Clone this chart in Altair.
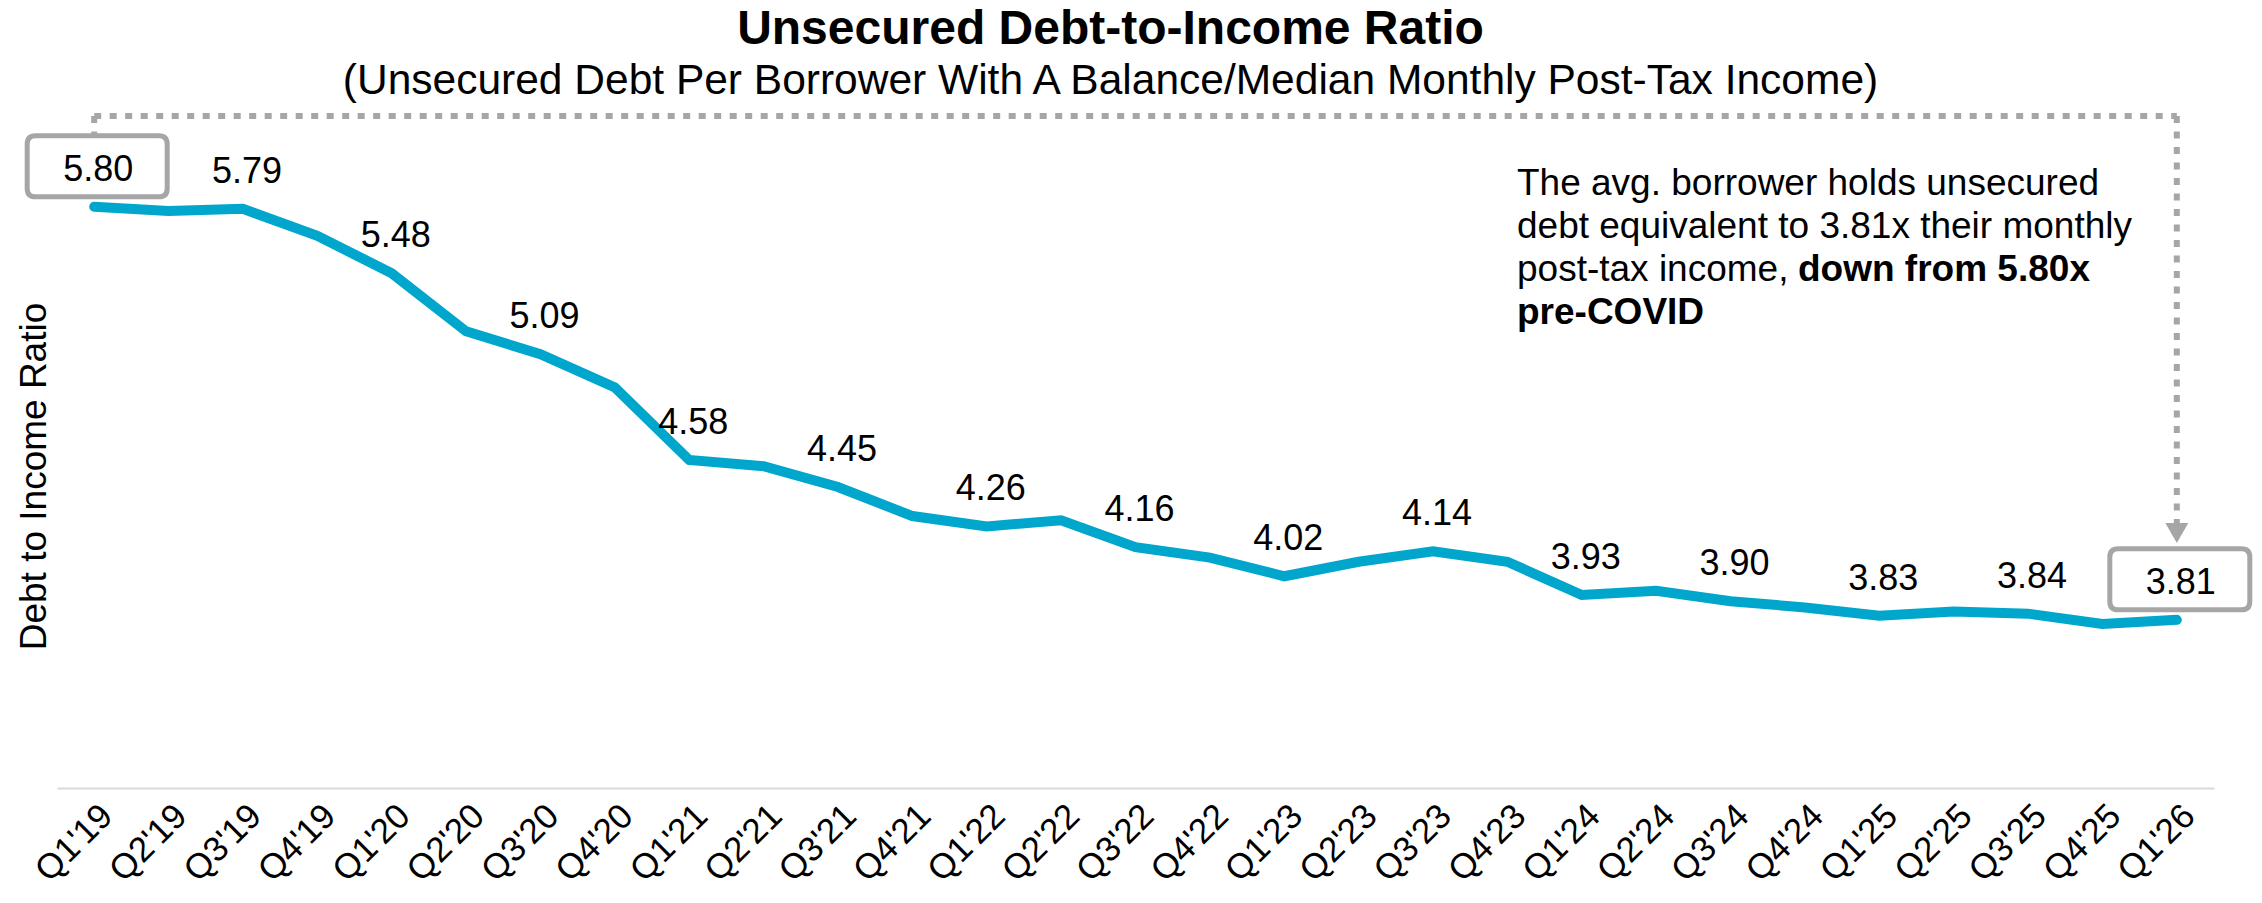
import altair as alt
import pandas as pd

# ---------------- data ----------------
quarters = ["Q1'19", "Q2'19", "Q3'19", "Q4'19", "Q1'20", "Q2'20", "Q3'20", "Q4'20",
            "Q1'21", "Q2'21", "Q3'21", "Q4'21", "Q1'22", "Q2'22", "Q3'22", "Q4'22",
            "Q1'23", "Q2'23", "Q3'23", "Q4'23", "Q1'24", "Q2'24", "Q3'24", "Q4'24",
            "Q1'25", "Q2'25", "Q3'25", "Q4'25", "Q1'26"]
ratio = [5.80, 5.78, 5.79, 5.66, 5.48, 5.20, 5.09, 4.93,
         4.58, 4.55, 4.45, 4.31, 4.26, 4.29, 4.16, 4.11,
         4.02, 4.09, 4.14, 4.09, 3.93, 3.95, 3.90, 3.87,
         3.83, 3.85, 3.84, 3.79, 3.81]
boxed_quarters = ["Q1'19", "Q1'26"]

title_text = "Unsecured Debt-to-Income Ratio"
subtitle_text = "(Unsecured Debt Per Borrower With A Balance/Median Monthly Post-Tax Income)"
y_title = "Debt to Income Ratio"
note_regular = "The avg. borrower holds unsecured\ndebt equivalent to 3.81x their monthly\npost-tax income,"
note_bold_1 = "down from 5.80x"
note_bold_2 = "pre-COVID"

# ---------------- style ----------------
FONT = "Liberation Sans, Arial, Helvetica, sans-serif"
LINE_COLOR = "#00A6CB"
GRAY = "#A6A6A6"
BOX_PATH = ("M -0.88,-0.4357 L 0.88,-0.4357 Q 1,-0.4357 1,-0.3157 L 1,0.3157 "
            "Q 1,0.4357 0.88,0.4357 L -0.88,0.4357 Q -1,0.4357 -1,0.3157 "
            "L -1,-0.3157 Q -1,-0.4357 -0.88,-0.4357 Z")

df = pd.DataFrame({"quarter": quarters, "ratio": ratio})
df["idx"] = range(len(df))
df["label"] = [f"{v:.2f}" for v in ratio]
labels_df = df[df["idx"] % 2 == 0]
box_df = df[df["quarter"].isin(boxed_quarters)]
ends_df = pd.DataFrame({"quarter": [quarters[0]], "q2": [quarters[-1]]})
last_df = pd.DataFrame({"quarter": [quarters[-1]]})
first_df = pd.DataFrame({"quarter": [quarters[0]]})

x_scale = alt.Scale(type="point", padding=0.5, domain=quarters)
x_enc = alt.X(
    "quarter:N", sort=quarters, scale=x_scale,
    axis=alt.Axis(title=None, labelAngle=-45, labelFontSize=35, labelFont=FONT,
                  labelColor="black", ticks=False, tickSize=0, domainColor="#D9D9D9",
                  domainWidth=2, labelPadding=10, grid=False,
                  labelAlign="right", labelBaseline="top"),
)
x_plain = alt.X("quarter:N", sort=quarters, scale=x_scale)
y_enc = alt.Y(
    "ratio:Q",
    scale=alt.Scale(domain=[3, 6.3], nice=False, zero=False),
    axis=alt.Axis(title=y_title, labels=False, ticks=False, domain=False, grid=False,
                  titleFontSize=37, titleFont=FONT, titleFontWeight="normal",
                  titleColor="black", titleX=-12, titleY=373, titleAngle=270,
                  titleBaseline="alphabetic", titleAlign="center"),
)

line = alt.Chart(df).mark_line(color=LINE_COLOR, strokeWidth=10, strokeCap="round").encode(
    x=x_enc, y=y_enc)

boxes = alt.Chart(box_df).mark_point(
    shape=BOX_PATH, size=19600, filled=True, fill="white", stroke=GRAY,
    strokeWidth=5, opacity=1, fillOpacity=1, yOffset=-40.5, xOffset=3,
).encode(x=x_plain, y=y_enc)

labels = alt.Chart(labels_df).mark_text(
    font=FONT, fontSize=36, color="black", dx=4, dy=-26, baseline="alphabetic", align="center"
).encode(x=x_plain, y=y_enc, text="label:N")

dash = [7, 8.5]
bracket_h = alt.Chart(ends_df).mark_rule(color=GRAY, strokeWidth=6, strokeDash=dash).encode(
    x=x_plain, x2="q2:N", y=alt.value(13))
bracket_l = alt.Chart(first_df).mark_rule(color=GRAY, strokeWidth=6, strokeDash=dash).encode(
    x=x_plain, y=alt.value(13), y2=alt.value(31))
bracket_r = alt.Chart(last_df).mark_rule(color=GRAY, strokeWidth=6, strokeDash=dash).encode(
    x=x_plain, y=alt.value(13), y2=alt.value(422))
arrow = alt.Chart(last_df).mark_point(
    shape="triangle-down", size=529, filled=True, color=GRAY, opacity=1
).encode(x=x_plain, y=alt.value(430))

note1 = alt.Chart(pd.DataFrame({"t": [note_regular]})).mark_text(
    font=FONT, fontSize=37, color="black", align="left", baseline="alphabetic",
    lineBreak="\n", lineHeight=43,
).encode(x=alt.value(1460), y=alt.value(92), text="t:N")
note2 = alt.Chart(pd.DataFrame({"t": [note_bold_1]})).mark_text(
    font=FONT, fontSize=37, fontWeight="bold", color="black", align="left", baseline="alphabetic",
).encode(x=alt.value(1741), y=alt.value(178), text="t:N")
note3 = alt.Chart(pd.DataFrame({"t": [note_bold_2]})).mark_text(
    font=FONT, fontSize=37, fontWeight="bold", color="black", align="left", baseline="alphabetic",
).encode(x=alt.value(1460), y=alt.value(221), text="t:N")

chart = alt.layer(
    line, bracket_h, bracket_l, bracket_r, arrow, boxes, labels, note1, note2, note3
).properties(
    width=2157, height=685,
    title=alt.TitleParams(
        text=title_text, subtitle=subtitle_text, font=FONT, subtitleFont=FONT,
        fontSize=48, subtitleFontSize=42.5, fontWeight="bold", subtitleFontWeight="normal",
        color="black", subtitleColor="black", anchor="middle", dx=-25, offset=1,
        subtitlePadding=6,
    ),
    autosize=alt.AutoSizeParams(type="none"),
    padding={"left": 57, "top": 103, "right": 48, "bottom": 115},
).configure_view(stroke=None)

chart.save("out.html", embed_options={"renderer": "svg", "actions": False})
